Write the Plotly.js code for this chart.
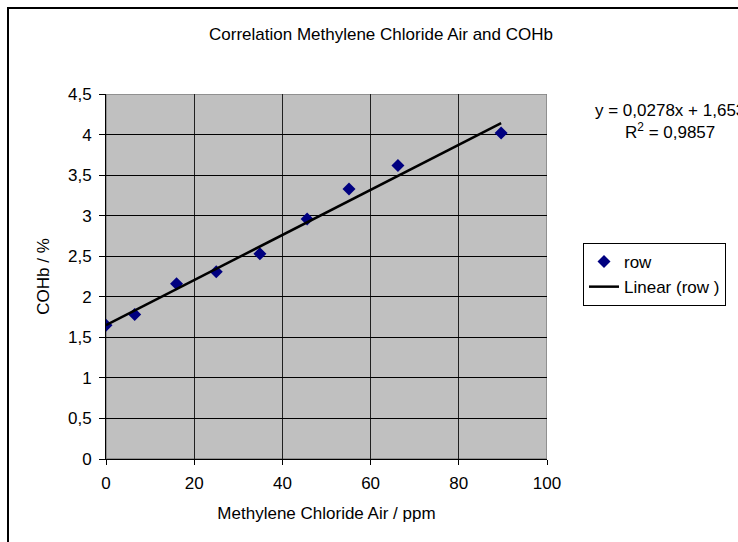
<!DOCTYPE html>
<html>
<head>
<meta charset="utf-8">
<script src="https://cdn.plot.ly/plotly-3.0.1.min.js"></script>
<style>
  html, body { margin: 0; padding: 0; background: #ffffff; }
  #wrap { position: relative; width: 738px; height: 542px; overflow: hidden; }
  #chart { position: absolute; left: 0; top: 0; width: 738px; height: 542px; }
  #frame { position: absolute; left: 7px; top: 7px; width: 760px; height: 560px;
           border: 2px solid #000; pointer-events: none; box-sizing: border-box; }
</style>
</head>
<body>
<div id="wrap">
  <div id="chart"></div>
  <div id="frame"></div>
</div>
<script>
// Data
const airPpm = [0, 6.5, 16.0, 25.0, 34.9, 45.6, 55.1, 66.2, 89.6];
const cohbPct = [1.65, 1.78, 2.16, 2.31, 2.53, 2.96, 3.33, 3.62, 4.02];

// Trendline coefficients as printed on the chart
const trendSlope = 0.0278;
const trendIntercept = 1.65;
const trendLabel = "y = 0,0278x + 1,6534";
const r2Label = "R<sup>2</sup> = 0,9857";

// Tick labels
const xTickVals = [0, 20, 40, 60, 80, 100];
const xTickText = ["0", "20", "40", "60", "80", "100"];
const yTickVals = [0, 0.5, 1, 1.5, 2, 2.5, 3, 3.5, 4, 4.5];
const yTickText = ["0", "0,5", "1", "1,5", "2", "2,5", "3", "3,5", "4", "4,5"];

const xMin = Math.min(...airPpm);
const xMax = Math.max(...airPpm);
const trendX = [xMin, xMax];
const trendY = trendX.map(v => trendSlope * v + trendIntercept);

const font = 'Liberation Sans, Arial, sans-serif';
const fs = 17;

const traces = [
  {
    x: airPpm, y: cohbPct, type: 'scatter', mode: 'markers', name: 'row',
    marker: { symbol: 'diamond', size: 10, color: '#000080' }
  },
  {
    x: trendX, y: trendY, type: 'scatter', mode: 'lines', name: 'Linear (row )',
    line: { color: '#000000', width: 2.5 }
  }
];

const L = 106, R = 738 - 547, T = 94, B = 542 - 459;
const plotW = 738 - L - R, plotH = 542 - T - B;

const layout = {
  width: 738, height: 542,
  margin: { l: L, r: R, t: T, b: B, pad: 0 },
  paper_bgcolor: '#ffffff',
  plot_bgcolor: '#c0c0c0',
  font: { family: font, size: fs, color: '#000' },
  showlegend: true,
  title: {
    text: 'Correlation Methylene Chloride Air and COHb',
    font: { family: font, size: fs, color: '#000' },
    xref: 'container', yref: 'container',
    x: 381 / 738, y: 1 - 34 / 542, xanchor: 'center', yanchor: 'middle'
  },
  xaxis: {
    range: [0, 100],
    tickvals: xTickVals, ticktext: xTickText,
    ticks: 'outside', ticklen: 5, tickcolor: '#000', tickwidth: 1,
    ticklabelstandoff: 4,
    showline: true, linecolor: '#000', linewidth: 1,
    showgrid: true, gridcolor: '#202020', gridwidth: 1,
    zeroline: false,
    tickfont: { family: font, size: fs, color: '#000' },
    title: { text: 'Methylene Chloride Air / ppm', font: { family: font, size: fs, color: '#000' }, standoff: 14 },
    fixedrange: true
  },
  yaxis: {
    range: [0, 4.5],
    tickvals: yTickVals, ticktext: yTickText,
    ticks: 'outside', ticklen: 6, tickcolor: '#000', tickwidth: 1,
    ticklabelstandoff: 4,
    showline: true, linecolor: '#000', linewidth: 1,
    showgrid: true, gridcolor: '#000000', gridwidth: 1,
    zeroline: false,
    tickfont: { family: font, size: fs, color: '#000' },
    title: { text: 'COHb / %', font: { family: font, size: fs, color: '#000' }, standoff: 14 },
    fixedrange: true
  },
  legend: {
    x: (583 - L) / plotW, y: (459 - 243) / plotH,
    xanchor: 'left', yanchor: 'top',
    bgcolor: '#ffffff', bordercolor: '#000', borderwidth: 1,
    font: { family: font, size: fs, color: '#000' },
    tracegroupgap: 0
  },
  shapes: [
    { type: 'rect', xref: 'x', yref: 'y', x0: 0, x1: 100, y0: 0, y1: 4.5,
      line: { color: '#808080', width: 1.5 }, fillcolor: 'rgba(0,0,0,0)', layer: 'below' }
  ],
  annotations: [
    { xref: 'paper', yref: 'paper', x: (593 - L) / plotW, y: (459 - 110) / plotH,
      text: trendLabel, showarrow: false, xanchor: 'left', yanchor: 'middle',
      font: { family: font, size: fs, color: '#000' } },
    { xref: 'paper', yref: 'paper', x: (670 - L) / plotW, y: (459 - 131) / plotH,
      text: r2Label, showarrow: false, xanchor: 'center', yanchor: 'middle',
      font: { family: font, size: fs, color: '#000' } }
  ]
};

Plotly.newPlot('chart', traces, layout, { displayModeBar: false, staticPlot: true });
</script>
</body>
</html>
